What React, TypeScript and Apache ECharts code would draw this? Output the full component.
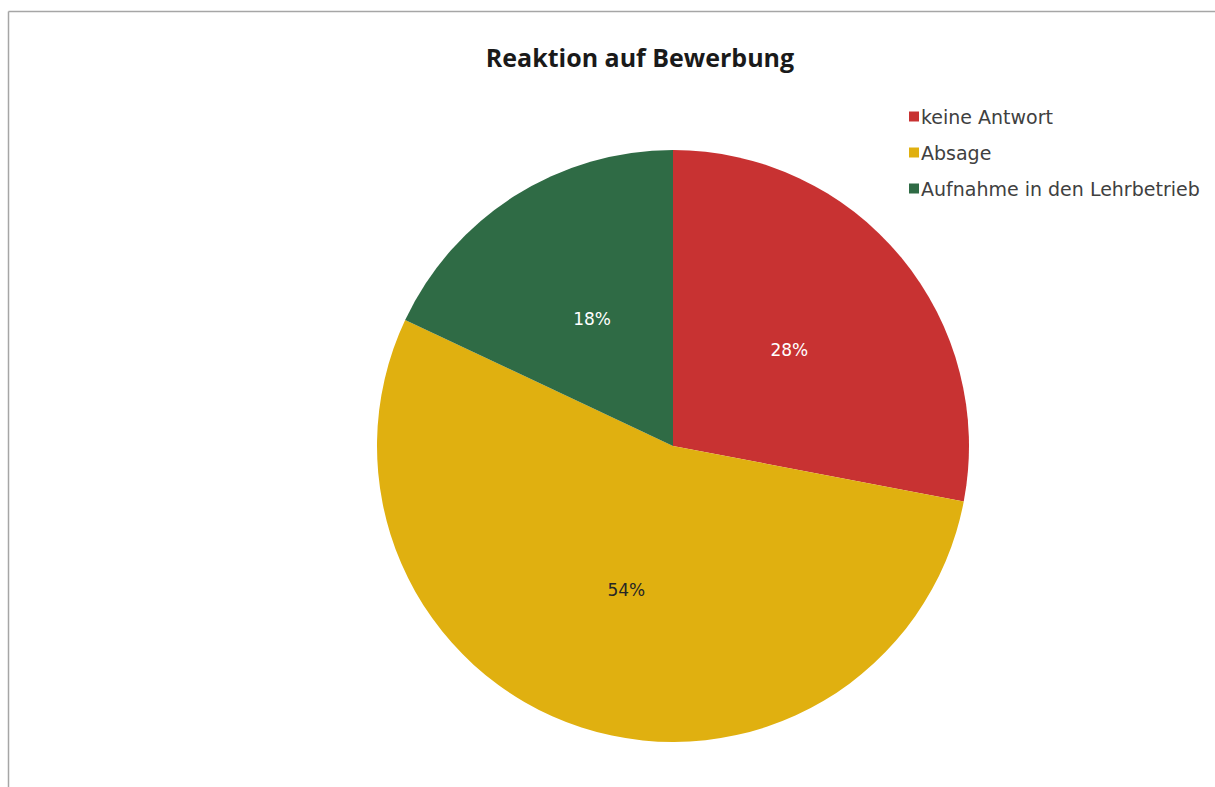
import React, { useEffect, useRef } from "react";
import * as echarts from "echarts";

const categories = ["keine Antwort", "Absage", "Aufnahme in den Lehrbetrieb"];
const values = [28, 54, 18];
const colors = ["#C83232", "#E0B010", "#2F6B45"];
const labelColors = ["#FFFFFF", "#262626", "#FFFFFF"];

export default function App() {
  const ref = useRef<HTMLDivElement>(null);
  useEffect(() => {
    if (!ref.current) return;
    const chart = echarts.init(ref.current, null, { renderer: "svg" });
    chart.setOption({
      animation: false,
      backgroundColor: "#FFFFFF",
      title: {
        text: "Reaktion auf Bewerbung",
        left: 635,
        top: 39,
        textAlign: "center",
        textStyle: {
          fontFamily: "Open Sans",
          fontWeight: "bold",
          fontSize: 25,
          color: "#1A1A1A",
        },
      },
      legend: {
        orient: "vertical",
        left: 904,
        top: 102,
        itemWidth: 10,
        itemHeight: 10,
        itemGap: 17,
        icon: "rect",
        textStyle: {
          fontFamily: "DejaVu Sans",
          fontSize: 19,
          lineHeight: 19,
          color: "#404040",
          padding: [0, 0, 0, -3],
        },
        data: categories,
      },
      graphic: [
        { type: "line", shape: { x1: 8.5, y1: 11.5, x2: 1215, y2: 11.5 }, style: { stroke: "#A6A6A6", lineWidth: 1.5 } },
        { type: "line", shape: { x1: 8.5, y1: 11.5, x2: 8.5, y2: 787 }, style: { stroke: "#A6A6A6", lineWidth: 1.5 } },
      ],
      series: [
        {
          type: "pie",
          center: [673, 446],
          radius: 296,
          startAngle: 90,
          clockwise: true,
          label: {
            position: "inside",
            formatter: "{d}%",
            fontFamily: "DejaVu Sans",
            fontSize: 17,
          },
          labelLine: { show: false },
          emphasis: { disabled: true },
          data: categories.map((name, i) => ({
            name,
            value: values[i],
            itemStyle: { color: colors[i] },
            label: { color: labelColors[i] },
          })),
        },
      ],
    });
    return () => chart.dispose();
  }, []);
  return <div ref={ref} style={{ position: "fixed", left: 0, top: 0, width: 1215, height: 787 }} />;
}
